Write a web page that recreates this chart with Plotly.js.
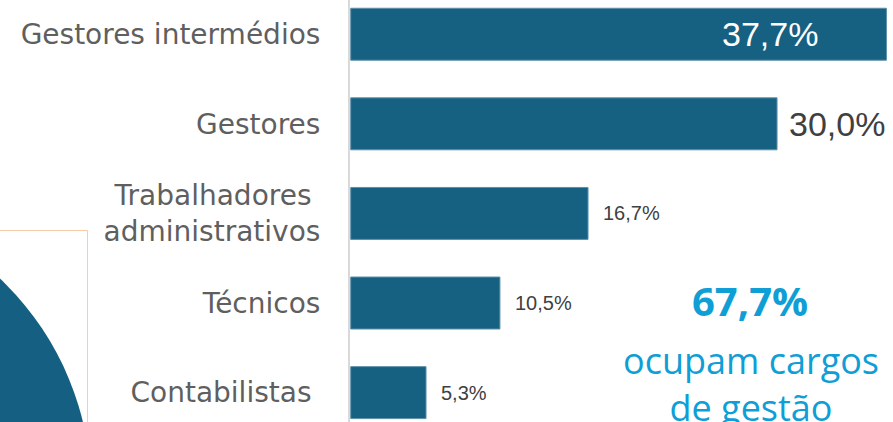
<!DOCTYPE html>
<html>
<head>
<meta charset="utf-8">
<script src="https://cdn.plot.ly/plotly-3.0.1.min.js"></script>
<style>html,body{margin:0;padding:0;background:#fff;}#chart{width:893px;height:422px;}</style>
</head>
<body>
<div id="chart"></div>
<script>
const categories = ['Gestores intermédios', 'Gestores', 'Trabalhadores administrativos', 'Técnicos', 'Contabilistas'];
const tickLabels = ['Gestores intermédios', 'Gestores', 'Trabalhadores\u00a0<br>administrativos', 'Técnicos', 'Contabilistas\u00a0'];
const values = [37.7, 30.0, 16.7, 10.5, 5.3];
const valueLabels = ['37,7%', '30,0%', '16,7%', '10,5%', '5,3%'];
const highlightValue = '67,7%';
const highlightText = 'ocupam cargos<br>de gestão';

const W = 893, H = 422;
const px = x => x / W;
const py = y => 1 - y / H;

const labelSizes = [34, 34, 20, 20, 20];
const labelInside = [true, false, false, false, false];

const annotations = values.map((v, i) => ({
  x: v, y: categories[i], xref: 'x', yref: 'y',
  text: valueLabels[i], showarrow: false,
  xanchor: labelInside[i] ? 'right' : 'left',
  xshift: labelInside[i] ? -66 : (i === 1 ? 10 : 13),
  font: {family: 'Liberation Sans, Arial, sans-serif', size: labelSizes[i], color: labelInside[i] ? '#ffffff' : '#404040'}
}));

annotations.push({
  xref: 'paper', yref: 'paper', x: px(750), y: py(300), xanchor: 'center', yanchor: 'middle',
  text: '<b>' + highlightValue + '</b>', showarrow: false,
  font: {family: 'Open Sans, sans-serif', size: 40, color: '#0F9ED5'}
});
annotations.push({
  xref: 'paper', yref: 'paper', x: px(751), y: py(334), xanchor: 'center', yanchor: 'top',
  text: highlightText, showarrow: false,
  font: {family: 'Open Sans, sans-serif', size: 36, color: '#0F9ED5'}
});

const cx = -200, cy = 490, r = 291;

const data = [{
  type: 'bar', orientation: 'h',
  x: values, y: categories,
  marker: {color: '#166082', line: {color: '#5d90a9', width: 1}},
  hoverinfo: 'none', textposition: 'none'
}];

const layout = {
  width: W, height: H,
  margin: {l: 0, r: 0, t: 0, b: 0},
  paper_bgcolor: '#ffffff', plot_bgcolor: '#ffffff',
  showlegend: false,
  bargap: 0.42,
  xaxis: {domain: [350 / W, 1], range: [-0.05, 38.16], showgrid: false, zeroline: false, showline: false, showticklabels: false, fixedrange: true},
  yaxis: {
    type: 'category', categoryorder: 'array', categoryarray: categories,
    range: [4.328, -0.382],
    tickmode: 'array', tickvals: categories, ticktext: tickLabels,
    showgrid: false, zeroline: false, showline: true, linecolor: '#d9d9d9', linewidth: 2,
    ticks: '', ticklabelstandoff: 22,
    tickfont: {family: 'DejaVu Sans, sans-serif', size: 28, color: '#5f5f5f'},
    fixedrange: true
  },
  annotations: annotations,
  shapes: [
    {type: 'rect', xref: 'paper', yref: 'paper', x0: px(-2), x1: px(87.5), y0: py(430), y1: py(230.5),
     line: {color: '#f8cbad', width: 1}, fillcolor: 'rgba(0,0,0,0)'},
    {type: 'circle', xref: 'paper', yref: 'paper', x0: px(cx - r), x1: px(cx + r), y0: py(cy + r), y1: py(cy - r),
     line: {width: 0}, fillcolor: '#156082'}
  ]
};

Plotly.newPlot('chart', data, layout, {displayModeBar: false, staticPlot: true});
</script>
</body>
</html>
